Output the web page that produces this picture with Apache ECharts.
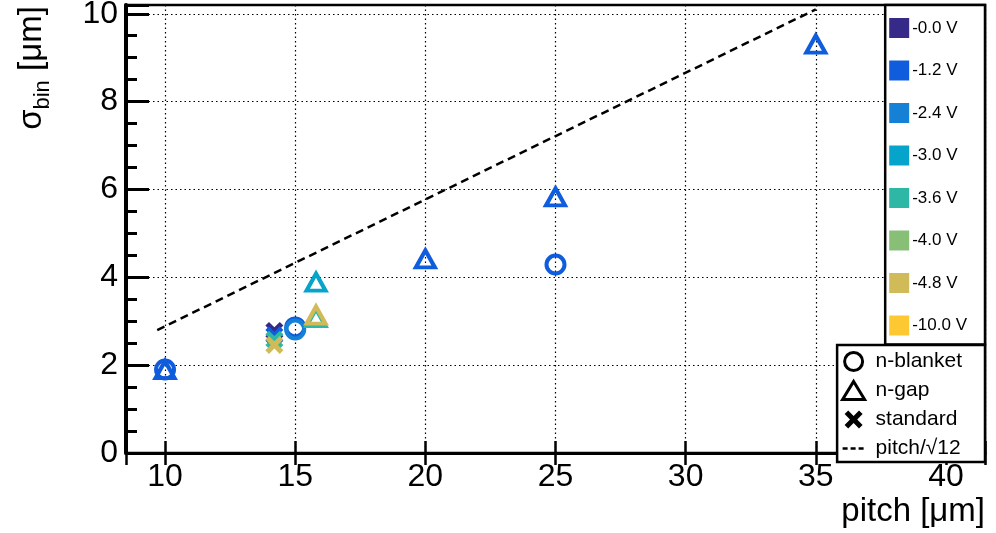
<!DOCTYPE html>
<html>
<head>
<meta charset="utf-8">
<script src="https://cdn.jsdelivr.net/npm/echarts@6/dist/echarts.min.js"></script>
<style>
  html, body { margin: 0; padding: 0; background: #fff; }
  #chart { width: 996px; height: 533px; }
</style>
</head>
<body>
<div id="chart"></div>
<script>
// voltages and their colours (ROOT bird palette)
const voltages = ["-0.0 V", "-1.2 V", "-2.4 V", "-3.0 V", "-3.6 V", "-4.0 V", "-4.8 V", "-10.0 V"];
const voltColors = ["#352a87", "#0f5cdd", "#1481d6", "#06a4ca", "#2eb7a4", "#87bf77", "#d1bb59", "#fec832"];

// n-blanket points
const blanketPitch = [10, 15, 15, 25];
const blanketSigma = [1.9, 2.86, 2.81, 4.29];
const blanketVolt = ["-1.2 V", "-1.2 V", "-2.4 V", "-1.2 V"];

// n-gap points
const gapPitch = [10, 15.8, 15.8, 15.8, 20, 25, 35];
const gapSigma = [1.9, 3.89, 3.08, 3.14, 4.42, 5.83, 9.31];
const gapVolt = ["-1.2 V", "-3.0 V", "-3.6 V", "-4.8 V", "-1.2 V", "-1.2 V", "-1.2 V"];

// standard points
const stdPitch = [14.2, 14.2, 14.2, 14.2];
const stdSigma = [2.78, 2.68, 2.58, 2.46];
const stdVolt = ["-0.0 V", "-1.2 V", "-3.6 V", "-4.8 V"];

// pitch/sqrt(12) reference line
const linePitch = [9.7, 35];
const lineSigma = [2.8, 10.1];

const font = "Liberation Sans";
const crossPath = "path://M2,0 L5,3 L8,0 L10,2 L7,5 L10,8 L8,10 L5,7 L2,10 L0,8 L3,5 L0,2 Z";

function hollow(color) {
    return { color: "rgba(255,255,255,0)", borderColor: color, borderWidth: 4, opacity: 1 };
}

const voltSeries = voltages.map((v, vi) => {
    const c = voltColors[vi];
    const data = [];
    blanketPitch.forEach((p, i) => {
        if (blanketVolt[i] === v) data.push({ value: [p, blanketSigma[i]], symbol: "circle", symbolSize: 18, itemStyle: hollow(c) });
    });
    gapPitch.forEach((p, i) => {
        if (gapVolt[i] === v) data.push({ value: [p, gapSigma[i]], symbol: "triangle", symbolSize: [19, 17], itemStyle: hollow(c) });
    });
    stdPitch.forEach((p, i) => {
        if (stdVolt[i] === v) data.push({ value: [p, stdSigma[i]], symbol: crossPath, symbolSize: 18, itemStyle: { color: c, opacity: 1 } });
    });
    return {
        name: v,
        type: "scatter",
        z: 5,
        itemStyle: { color: c, opacity: 1 },
        data: data
    };
});

const chart = echarts.init(document.getElementById("chart"));
const option = {
    animation: false,
    textStyle: { fontFamily: font, color: "#000" },
    grid: {
        left: 126, right: 11, top: 5, bottom: 80,
        show: true, borderColor: "#000", borderWidth: 2.5,
        outerBoundsMode: "none"
    },
    xAxis: [
        {
            type: "value", min: 8.5, max: 41.5, splitNumber: 6,
            axisLine: { show: true, onZero: false, lineStyle: { color: "#000", width: 3 } },
            axisTick: { show: true, inside: true, length: 12, lineStyle: { color: "#000", width: 2.5 } },
            axisLabel: {
                color: "#000", fontSize: 32, fontFamily: font, margin: 8,
                formatter: v => (v % 5 === 0 ? String(v) : "")
            },
            splitLine: { show: true, lineStyle: { color: "#000", width: 1.2, type: [1.5, 3] } }
        },
        {
            type: "value", min: 8.5, max: 41.5, splitNumber: 6, position: "top",
            axisLine: { show: false },
            axisTick: { show: true, inside: true, length: 12, lineStyle: { color: "#000", width: 2.5 } },
            axisLabel: { show: false },
            splitLine: { show: false }
        }
    ],
    yAxis: {
        type: "value", min: 0, max: 10.2, interval: 2,
        axisLine: { show: true, onZero: false, lineStyle: { color: "#000", width: 4 } },
        axisTick: { show: true, inside: true, length: 23, lineStyle: { color: "#000", width: 3 } },
        minorTick: { show: true, splitNumber: 4, length: 11, lineStyle: { color: "#000", width: 3 } },
        axisLabel: {
            color: "#000", fontSize: 32, fontFamily: font, margin: 8,
            formatter: v => (v % 2 === 0 ? String(v) : "")
        },
        splitLine: { show: true, lineStyle: { color: "#000", width: 1.2, type: [1.5, 3] } }
    },
    legend: [
        {
            orient: "vertical",
            right: 11, top: 5,
            padding: [13, 18, 9, 4],
            itemWidth: 20, itemHeight: 20, itemGap: 22.5,
            backgroundColor: "#fff", borderColor: "#000", borderWidth: 2.5, borderRadius: 0,
            itemStyle: { borderWidth: 0, opacity: 1 },
            textStyle: { fontSize: 17, fontFamily: font, color: "#000", padding: [0, 0, 0, -2] },
            data: voltages.map(v => ({ name: v, icon: "rect" }))
        },
        {
            orient: "vertical",
            right: 11, top: 345,
            padding: [6, 23, 3, 4],
            itemWidth: 22, itemHeight: 18, itemGap: 8,
            backgroundColor: "#fff", borderColor: "#000", borderWidth: 2.5, borderRadius: 0,
            itemStyle: { borderWidth: 3, opacity: 1 },
            lineStyle: { type: [5, 3], width: 2.5 },
            textStyle: { fontSize: 21, fontFamily: font, color: "#000", padding: [0, 0, 0, 6] },
            data: [
                { name: "n-blanket" },
                { name: "n-gap" },
                { name: "standard", itemStyle: { borderWidth: 0 } },
                {
                    name: "pitch/√12",
                    itemStyle: { color: "rgba(0,0,0,0)", borderColor: "rgba(0,0,0,0)", borderWidth: 0 },
                    lineStyle: { type: [5, 3], width: 2.5, color: "#000" }
                }
            ]
        }
    ],
    graphic: [
        {
            type: "text", x: 32, y: 68, rotation: Math.PI / 2,
            style: {
                text: "{m|σ}{s|bin}{m| [μm]}",
                align: "center", verticalAlign: "middle",
                rich: {
                    m: { fontSize: 33, fontFamily: font, fill: "#000", lineHeight: 44, verticalAlign: "middle" },
                    s: { fontSize: 22, fontFamily: font, fill: "#000", lineHeight: 24, verticalAlign: "bottom" }
                }
            }
        },
        {
            type: "text", x: 985, y: 512,
            style: {
                text: "pitch [μm]", fontSize: 33, fontFamily: font, fill: "#000",
                align: "right", verticalAlign: "middle"
            }
        }
    ],
    series: [
        {
            name: "pitch/√12",
            type: "line",
            symbol: "none",
            z: 3,
            lineStyle: { color: "#000", width: 2.5, type: [8, 5] },
            itemStyle: { color: "#000" },
            data: linePitch.map((p, i) => [p, lineSigma[i]])
        },
        ...voltSeries,
        { name: "n-blanket", type: "scatter", symbol: "circle", itemStyle: { color: "rgba(255,255,255,0)", borderColor: "#000", borderWidth: 3, opacity: 1 }, data: [] },
        { name: "n-gap", type: "scatter", symbol: "triangle", itemStyle: { color: "rgba(255,255,255,0)", borderColor: "#000", borderWidth: 3, opacity: 1 }, data: [] },
        { name: "standard", type: "scatter", symbol: crossPath, itemStyle: { color: "#000", opacity: 1 }, data: [] }
    ]
};
chart.setOption(option);
</script>
</body>
</html>
